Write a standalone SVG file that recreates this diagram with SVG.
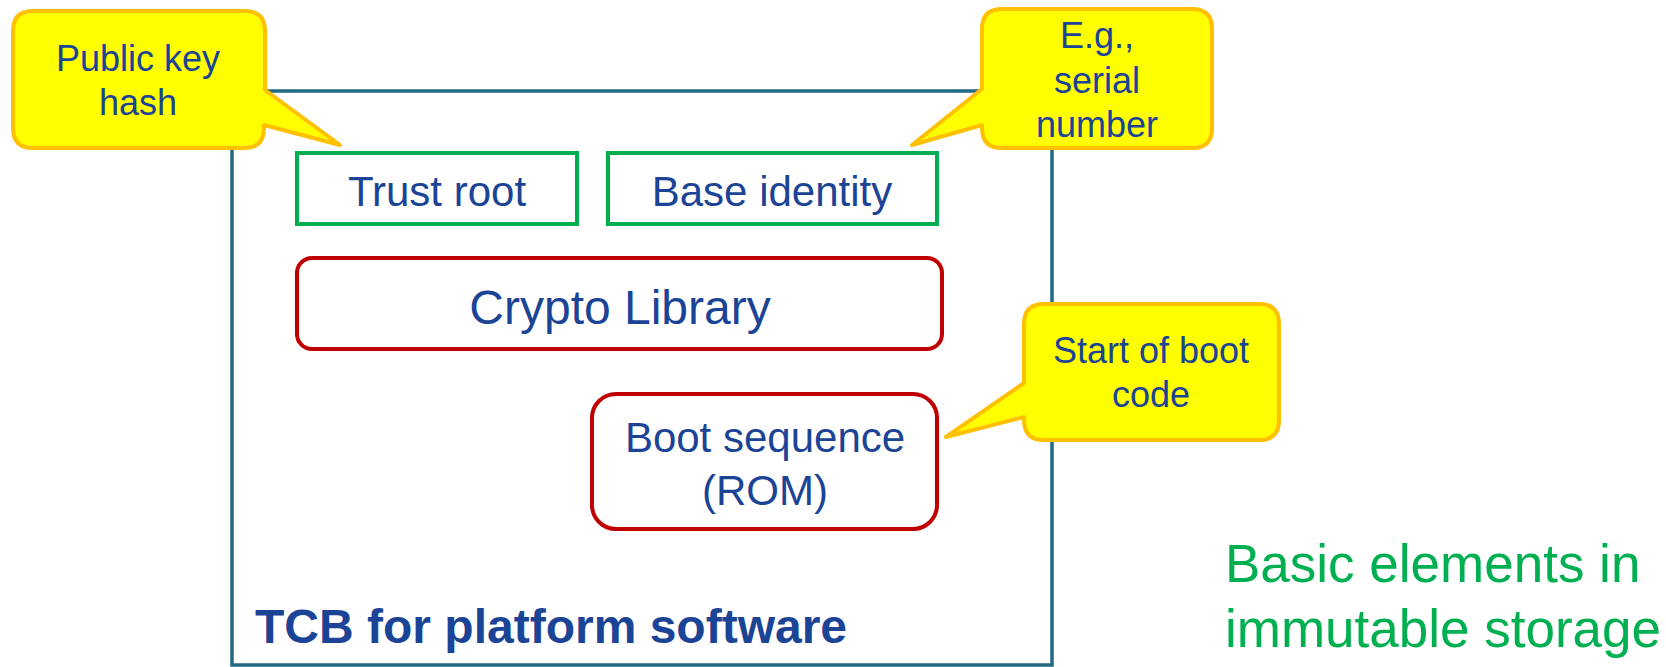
<svg xmlns="http://www.w3.org/2000/svg" width="1666" height="667" viewBox="0 0 1666 667">
  <style>
    text { font-family: "Liberation Sans", Arial, sans-serif; fill: #1B4496; }
    .mid { text-anchor: middle; }
    .green-box { fill: #FFFFFF; stroke: #00B050; stroke-width: 4; }
    .red-box { fill: #FFFFFF; stroke: #C00000; stroke-width: 4; }
    .callout { fill: #FFFF00; stroke: #FFC000; stroke-width: 4; stroke-linejoin: round; }
    .t42 { font-size: 42px; }
    .t36 { font-size: 36px; }
  </style>
  <rect width="1666" height="667" fill="#FFFFFF"/>

  <!-- Platform TCB container -->
  <g id="tcb">
    <rect x="232" y="91" width="820" height="574" fill="none" stroke="#236A84" stroke-width="3.5"/>
    <text x="255" y="643" font-size="48" font-weight="bold">TCB for platform software</text>
  </g>

  <g id="trust-root">
    <rect class="green-box" x="297" y="153" width="280" height="71"/>
    <text class="mid t42" x="437" y="206">Trust root</text>
  </g>

  <g id="base-identity">
    <rect class="green-box" x="608" y="153" width="329" height="71"/>
    <text class="mid t42" x="772" y="206">Base identity</text>
  </g>

  <g id="crypto-library">
    <rect class="red-box" x="297" y="258" width="645" height="91" rx="15"/>
    <text class="mid" x="620" y="324" font-size="48">Crypto Library</text>
  </g>

  <g id="boot-sequence">
    <rect class="red-box" x="592" y="394" width="345" height="135" rx="24"/>
    <text class="mid t42" x="765" y="452">Boot sequence</text>
    <text class="mid t42" x="765" y="505">(ROM)</text>
  </g>

  <!-- Callouts -->
  <g id="callout-public-key">
    <path class="callout" d="M33,11 H245 Q265,11 265,31 V90 L340,145 L264,125 V128 Q264,148 244,148 H33 Q13,148 13,128 V31 Q13,11 33,11 Z"/>
    <text class="mid t36" x="138" y="71">Public key</text>
    <text class="mid t36" x="138" y="115">hash</text>
  </g>

  <g id="callout-serial">
    <path class="callout" d="M1002,9 H1192 Q1212,9 1212,29 V128 Q1212,148 1192,148 H1002 Q982,148 982,128 V125 L912,145 L982,89 V29 Q982,9 1002,9 Z"/>
    <text class="mid t36" x="1097" y="48">E.g.,</text>
    <text class="mid t36" x="1097" y="93">serial</text>
    <text class="mid t36" x="1097" y="137">number</text>
  </g>

  <g id="callout-boot">
    <path class="callout" d="M1044,304 H1259 Q1279,304 1279,324 V420 Q1279,440 1259,440 H1044 Q1024,440 1024,420 V417 L946,437 L1024,383 V324 Q1024,304 1044,304 Z"/>
    <text class="mid t36" x="1151" y="363">Start of boot</text>
    <text class="mid t36" x="1151" y="407">code</text>
  </g>

  <g id="storage-note">
    <text x="1225" y="582" font-size="53" style="fill:#00B050">Basic elements in</text>
    <text x="1225" y="647" font-size="53" style="fill:#00B050">immutable storage</text>
  </g>
</svg>
